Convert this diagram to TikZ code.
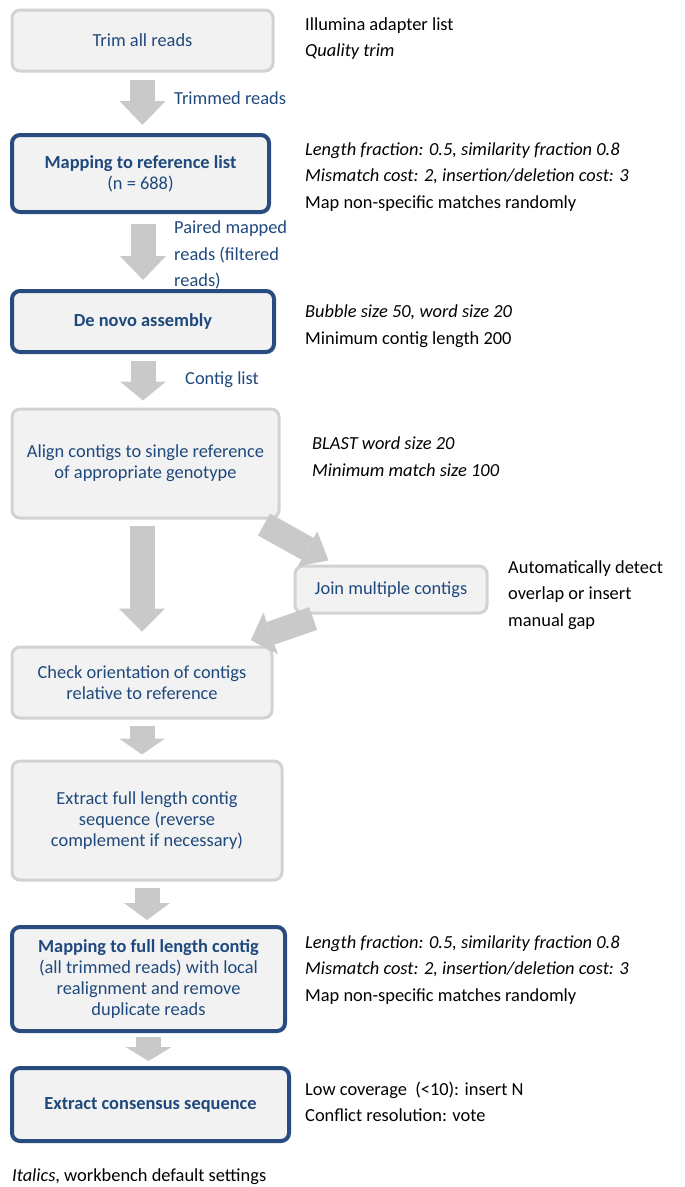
\documentclass[tikz,border=0pt]{standalone}
\usepackage{fontspec}
\setmainfont{Carlito}
\usetikzlibrary{arrows.meta}
\definecolor{txtblue}{HTML}{1F497D}
\definecolor{darkb}{HTML}{284C7F}
\definecolor{lightb}{HTML}{D2D2D2}
\definecolor{boxfill}{HTML}{F2F2F2}
\definecolor{arrowgray}{HTML}{C9C9C9}
\begin{document}
\begin{tikzpicture}[x=1pt,y=-1pt,
  box/.style={draw=lightb, line width=3pt, fill=boxfill, rounded corners=8pt,
    inner sep=0pt, align=center, text=txtblue,
    font=\fontsize{18.4}{21}\selectfont},
  keybox/.style={box, draw=darkb, line width=4pt},
  note/.style={anchor=west, inner sep=0pt, align=left, text=black,
    font=\fontsize{18.4}{26.5}\selectfont},
  flowlabel/.style={note, text=txtblue},
  blk/.style={draw=arrowgray, line width=25pt,
    -{Triangle[width=46pt, length=#1, line width=0pt]}},
  blk/.default=22pt
]
\useasboundingbox (0,0) rectangle (685,1187);

% boxes
\node[box, minimum width=261, minimum height=61] (b1) at (142.5,40.5) {Trim all reads};
\node[keybox, minimum width=257, minimum height=77] (b2) at (140.5,173.5)
  {\textbf{Mapping to reference list}\\(n = 688)};
\node[keybox, minimum width=262, minimum height=61] (b3) at (143,321.5)
  {\textbf{De novo assembly}};
\node[box, minimum width=267, minimum height=109] (b4) at (145.5,463.5)
  {Align contigs to single reference\\of appropriate genotype};
\node[box, minimum width=192, minimum height=47] (bj) at (391,589.5)
  {Join multiple contigs};
\node[box, minimum width=260, minimum height=71] (b5) at (142,682.5)
  {Check orientation of contigs\\relative to reference};
\node[box, minimum width=270, minimum height=119] (b6) at (147,820.5)
  {Extract full length contig\\sequence (reverse\\complement if necessary)};
\node[keybox, minimum width=273, minimum height=104] (b7) at (148.5,979)
  {\textbf{Mapping to full length contig}\\(all trimmed reads) with local\\realignment and remove\\duplicate reads};
\node[keybox, minimum width=277, minimum height=73] (b8) at (150.5,1104.5)
  {\textbf{Extract consensus sequence}};

% flow labels
\node[flowlabel] (l1) at (174,98) {Trimmed reads};
\node[flowlabel] (l2) at (174,255) {Paired mapped\\reads (filtered\\reads)};
\node[flowlabel] (l3) at (185,380) {Contig list};

% notes
\node[note] (n1) at (305,38.5) {Illumina adapter list\\\textit{Quality trim}};
\node[note] (n2) at (305,177) {\textit{Length fraction: 0.5, similarity fraction 0.8}\\\textit{Mismatch cost: 2, insertion/deletion cost: 3}\\Map non-specific matches randomly};
\node[note] (n3) at (305,326) {\textit{Bubble size 50, word size 20}\\Minimum contig length 200};
\node[note] (n4) at (312,456.5) {\textit{BLAST word size 20}\\\textit{Minimum match size 100}};
\node[note] (nj) at (508,595) {Automatically detect\\overlap or insert\\manual gap};
\node[note] (n7) at (305,970) {\textit{Length fraction: 0.5, similarity fraction 0.8}\\\textit{Mismatch cost: 2, insertion/deletion cost: 3}\\Map non-specific matches randomly};
\node[note] (n8) at (305,1102) {Low coverage~~(<10): insert N\\Conflict resolution: vote};
\node[note] (leg) at (12,1177) {\textit{Italics}, workbench default settings};

% arrows
\draw[blk=24pt, shorten <=7pt, shorten >=8pt] (b1.south) -- (b1.south |- b2.north);
\draw[blk=24pt, shorten <=10pt, shorten >=9pt] (b2.south -| b3.north) -- (b3.north);
\draw[blk=19pt, shorten <=7pt, shorten >=7pt] (b3.south) -- (b3.south |- b4.north);
\draw[blk=23pt, shorten <=6pt, shorten >=14pt] (b4.south -| b5.north) -- (b5.north);
\draw[blk=16pt, shorten <=6pt, shorten >=5pt] (b5.south) -- (b5.south |- b6.north);
\draw[blk=17pt, shorten <=6pt, shorten >=5pt] (b6.south) -- (b6.south |- b7.north);
\draw[blk=14pt, shorten <=4pt, shorten >=5pt] (b7.south) -- (b7.south |- b8.north);
\coordinate (d1s) at ([shift={(-16.5,5)}]b4.south east);
\coordinate (d1e) at ([shift={(35,-4)}]bj.north west);
\draw[draw=arrowgray, line width=25pt, -{Triangle[width=40pt, length=24pt, line width=0pt]}] (d1s) -- (d1e);
\coordinate (d2s) at ([shift={(19.7,4)}]bj.south west);
\coordinate (d2e) at ([shift={(-22.7,-5.3)}]b5.north east);
\draw[draw=arrowgray, line width=24pt, -{Triangle[width=44pt, length=21pt, line width=0pt]}] (d2s) -- (d2e);
\end{tikzpicture}
\end{document}
